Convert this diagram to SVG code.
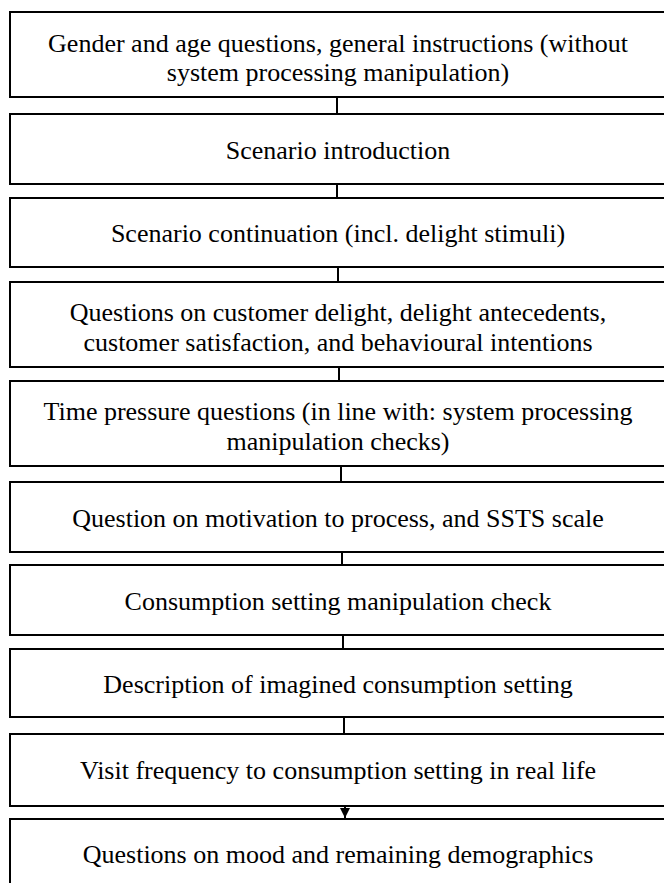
<svg xmlns="http://www.w3.org/2000/svg" width="664" height="883" viewBox="0 0 664 883">
  <style>
    .box { fill: #ffffff; stroke: #000000; stroke-width: 2; }
    .lbl { font-size: 26px; fill: #000000; text-anchor: middle; }
    .conn { stroke: #000000; stroke-width: 2; fill: none; }
  </style>
  <defs>
    <marker id="arrow" markerWidth="12" markerHeight="12" refX="10" refY="5" orient="auto" markerUnits="userSpaceOnUse">
      <path d="M0,0 L10,5 L0,10 Z" fill="#000000"/>
    </marker>
  </defs>
  <rect width="664" height="883" fill="#ffffff"/>

  <g id="connectors">
    <line class="conn" x1="337" y1="97" x2="337" y2="114"/>
    <line class="conn" x1="337" y1="184" x2="337" y2="198"/>
    <line class="conn" x1="338" y1="267" x2="338" y2="282"/>
    <line class="conn" x1="339" y1="367" x2="339" y2="381"/>
    <line class="conn" x1="341" y1="466" x2="341" y2="482"/>
    <line class="conn" x1="342" y1="552" x2="342" y2="565"/>
    <line class="conn" x1="343" y1="635" x2="343" y2="649"/>
    <line class="conn" x1="344" y1="717" x2="344" y2="734"/>
    <line class="conn" x1="345" y1="806" x2="345" y2="818" marker-end="url(#arrow)"/>
  </g>

  <g font-family="Liberation Serif, serif">
  <g id="n1">
    <rect class="box" x="10" y="12" width="656" height="85"/>
    <text class="lbl" x="338" y="52">Gender and age questions, general instructions (without</text>
    <text class="lbl" x="338" y="81">system processing manipulation)</text>
  </g>
  <g id="n2">
    <rect class="box" x="10" y="114" width="656" height="70"/>
    <text class="lbl" x="338" y="159">Scenario introduction</text>
  </g>
  <g id="n3">
    <rect class="box" x="10" y="198" width="656" height="69"/>
    <text class="lbl" x="338" y="242">Scenario continuation (incl. delight stimuli)</text>
  </g>
  <g id="n4">
    <rect class="box" x="10" y="282" width="656" height="85"/>
    <text class="lbl" x="338" y="321">Questions on customer delight, delight antecedents,</text>
    <text class="lbl" x="338" y="351">customer satisfaction, and behavioural intentions</text>
  </g>
  <g id="n5">
    <rect class="box" x="10" y="381" width="656" height="85"/>
    <text class="lbl" x="338" y="420">Time pressure questions (in line with: system processing</text>
    <text class="lbl" x="338" y="450">manipulation checks)</text>
  </g>
  <g id="n6">
    <rect class="box" x="10" y="482" width="656" height="70"/>
    <text class="lbl" x="338" y="527">Question on motivation to process, and SSTS scale</text>
  </g>
  <g id="n7">
    <rect class="box" x="10" y="565" width="656" height="70"/>
    <text class="lbl" x="338" y="610">Consumption setting manipulation check</text>
  </g>
  <g id="n8">
    <rect class="box" x="10" y="649" width="656" height="68"/>
    <text class="lbl" x="338" y="693">Description of imagined consumption setting</text>
  </g>
  <g id="n9">
    <rect class="box" x="10" y="734" width="656" height="72"/>
    <text class="lbl" x="338" y="779">Visit frequency to consumption setting in real life</text>
  </g>
  <g id="n10">
    <rect class="box" x="10" y="819" width="656" height="72"/>
    <text class="lbl" x="338" y="863">Questions on mood and remaining demographics</text>
  </g>
  </g>
</svg>
